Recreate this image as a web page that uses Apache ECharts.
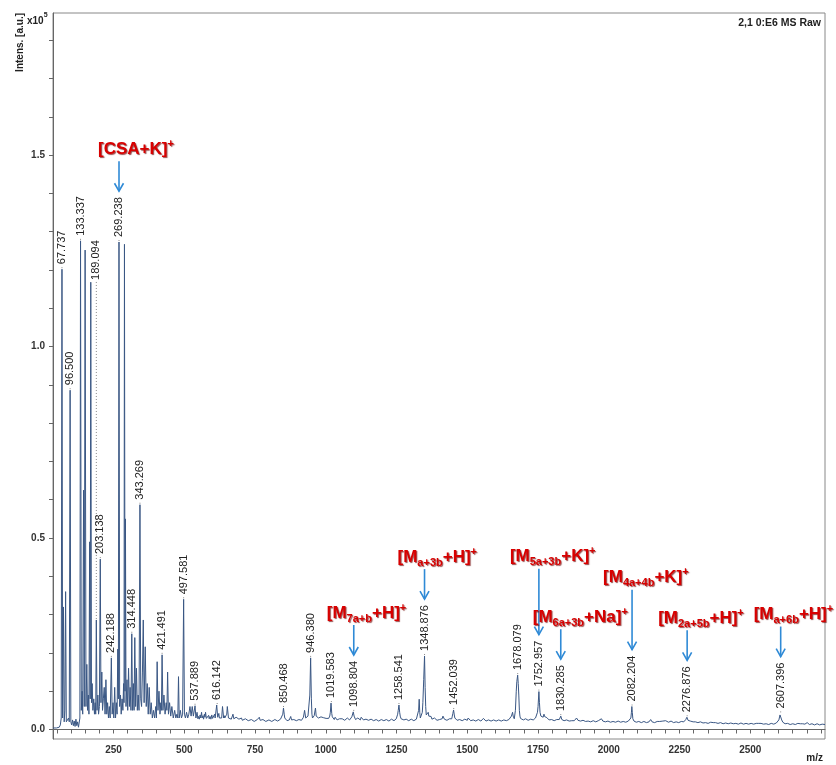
<!DOCTYPE html>
<html><head><meta charset="utf-8">
<script src="https://cdn.jsdelivr.net/npm/echarts@6/dist/echarts.min.js"></script>
<style>html,body{margin:0;padding:0;background:#fff}#c{width:836px;height:765px}</style>
</head><body><div id="c"></div>
<script>
// ---- data (intensity in units of 1e5 a.u.) ----
const spectrum = [
[36,0.004],[42,0.006],[48,0.004],[54,0.008],[58,0.006],[62,0.012],[65,0.03],[67.7,1.202],[70,0.03],[73,0.32],[75.5,0.02],[78,0.05],[80.6,0.36],[83,0.02],[87,0.015],[91,0.03],[93.5,0.02],[96.5,0.886],[99,0.02],[102,0.012],[105,0.025],[108,0.01],[111,0.022],[114,0.008],[117,0.027],[120,0.01],[123,0.02],[126,0.006],[129,0.01],[131,0.03],
[133.3,1.276],[136,0.05],[139,0.1],[141,0.04],[144,0.625],[146.5,0.06],[149.5,1.252],[152.5,0.06],[155.5,0.17],[158,0.05],[161,0.09],[163,0.04],[165.5,0.49],[167.5,0.08],[169.5,1.168],[172,0.07],[174.5,0.12],[177,0.05],[180,0.08],[182.5,0.04],[185,0.07],[187,0.04],[189.1,0.286],[191.5,0.05],[194.5,0.09],[197,0.04],[200,0.06],[203.1,0.445],[205.5,0.07],[208.5,0.15],[211,0.05],[214,0.08],[217,0.11],[220,0.04],[223,0.13],[226,0.04],[229,0.07],[232,0.03],[235,0.06],[238,0.03],[242.2,0.187],[245,0.04],[248,0.07],[251,0.03],[254,0.11],[257,0.03],[260,0.07],[262.5,0.04],[265,0.21],[267,0.08],[269.2,1.273],[271.5,0.06],[274.5,0.09],[277,0.04],[280,0.08],[283,0.05],[285.5,0.12],[287,0.07],[288.5,1.267],[290.5,0.1],[292,0.55],[294,0.06],[297.5,0.13],[300,0.05],[303,0.16],[306,0.06],[308.5,0.11],[311.5,0.05],[314.4,0.25],[317,0.05],[320,0.12],[322.5,0.05],[325,0.24],[328,0.06],[331,0.16],[334,0.05],[337,0.09],[340,0.05],[343.3,0.587],[346,0.08],[349,0.06],[352,0.15],[355,0.286],[358,0.07],[362,0.216],[365.5,0.06],[369,0.12],[372.5,0.04],[376,0.11],[379.5,0.04],[383,0.07],[387,0.03],[391,0.05],[395,0.03],[399,0.06],[401.5,0.03],[404,0.177],[407,0.05],[410.5,0.1],[414,0.04],[417,0.07],[419,0.05],[421.5,0.195],[424.5,0.05],[428,0.09],[432,0.04],[436,0.07],[438.5,0.05],[441,0.15],[444,0.04],[448,0.07],[452,0.035],[456,0.06],[461,0.03],[466,0.05],[470,0.03],[474,0.04],[477,0.03],[479.5,0.138],[482,0.03],[486,0.05],[490,0.03],[494,0.04],[497.6,0.34],[500.5,0.04],[504,0.03],[508,0.045],[512,0.03],[516,0.04],[520,0.06],[524,0.035],[528,0.06],[532,0.035],[537.9,0.062],[541,0.03],[545,0.045],[548,0.028],[550,0.034],[553,0.027],[556,0.038],[558,0.03],[561,0.045],[563,0.03],[566,0.036],[568,0.027],[571,0.04],[573,0.032],[575,0.045],[578,0.029],[580,0.033],[583,0.027],[586,0.037],[588,0.028],[591,0.034],[594,0.027],[597,0.038],[600,0.029],[602,0.034],[605,0.028],[607,0.04],[609,0.03],[611,0.033],[614.5,0.064],[618,0.032],[620,0.036],[622,0.042],[624,0.03],[626,0.033],[628,0.028],[630,0.035],[632,0.03],[635,0.06],[639,0.03],[641,0.036],[643,0.03],[645,0.035],[647,0.03],[650,0.04],[652,0.06],[656,0.03],[658,0.034],[661,0.03],[663,0.035],[666,0.027],[669,0.031],[672,0.04],[675,0.028],[677,0.032],[680,0.026],[683,0.032],[686,0.027],[690,0.036],[693,0.027],[696,0.031],[699,0.025],[702,0.03],[705,0.024],[709,0.028],[712,0.023],[716,0.028],[719,0.023],[723,0.027],[726,0.023],[730,0.027],[733,0.022],[737,0.026],[740,0.022],[744,0.026],[747,0.021],[751,0.025],[754,0.022],[758,0.026],[762,0.024],[765,0.032],[768,0.024],[771,0.027],[774,0.022],[778,0.026],[781,0.022],[785,0.025],[788,0.021],[792,0.026],[795,0.022],[799,0.025],[802,0.022],[806,0.026],[809,0.021],[813,0.024],[816,0.022],[820,0.026],[823,0.022],[827,0.025],[830,0.022],[834,0.026],[837,0.023],[840,0.027],[843,0.025],[845,0.03],[848,0.04],[850.5,0.056],[853,0.04],[855,0.03],[858,0.025],[860,0.027],[863,0.023],[866,0.026],[868,0.023],[871,0.025],[874,0.028],[876,0.034],[879,0.025],[881,0.027],[884,0.023],[887,0.026],[890,0.023],[893,0.025],[896,0.023],[899,0.027],[902,0.023],[905,0.026],[908,0.024],[911,0.028],[914,0.024],[916,0.027],[919,0.025],[921,0.032],[925,0.05],[929,0.03],[931,0.026],[933,0.03],[935,0.026],[937,0.035],[939,0.03],[941,0.04],[943.5,0.09],[946.4,0.187],[949,0.08],[951,0.04],[953,0.03],[955,0.034],[957,0.028],[959,0.036],[961,0.04],[963.5,0.056],[966,0.035],[968,0.03],[970,0.036],[972,0.04],[974,0.03],[976,0.028],[979,0.032],[981,0.027],[983,0.033],[986,0.036],[988,0.028],[991,0.031],[993,0.026],[996,0.031],[998,0.026],[1001,0.029],[1003,0.025],[1006,0.03],[1008,0.026],[1010,0.029],[1012,0.03],[1014,0.035],[1016,0.045],[1018.5,0.069],[1021,0.042],[1023,0.033],[1025,0.028],[1028,0.031],[1030,0.026],[1033,0.032],[1035,0.027],[1038,0.03],[1040,0.025],[1043,0.03],[1045,0.025],[1048,0.028],[1050,0.024],[1053,0.029],[1055,0.025],[1058,0.028],[1061,0.024],[1064,0.028],[1067,0.024],[1070,0.027],[1073,0.024],[1076,0.03],[1079,0.025],[1082,0.028],[1084,0.025],[1087,0.03],[1089,0.026],[1092,0.033],[1094,0.03],[1097,0.046],[1100,0.035],[1102,0.03],[1105,0.026],[1107,0.029],[1110,0.025],[1113,0.03],[1116,0.026],[1119,0.028],[1122,0.025],[1125,0.032],[1127,0.027],[1130,0.029],[1133,0.025],[1136,0.029],[1139,0.024],[1142,0.027],[1145,0.024],[1148,0.028],[1151,0.024],[1154,0.027],[1157,0.023],[1160,0.027],[1163,0.023],[1166,0.026],[1169,0.023],[1172,0.027],[1175,0.023],[1178,0.026],[1181,0.023],[1184,0.026],[1187,0.022],[1190,0.025],[1193,0.023],[1196,0.026],[1199,0.023],[1202,0.025],[1205,0.023],[1208,0.027],[1211,0.023],[1214,0.026],[1217,0.023],[1220,0.026],[1223,0.022],[1226,0.025],[1229,0.023],[1232,0.027],[1235,0.023],[1238,0.026],[1241,0.023],[1244,0.026],[1247,0.025],[1249,0.028],[1252,0.03],[1254,0.04],[1256,0.05],[1258.5,0.064],[1261,0.045],[1263,0.035],[1266,0.028],[1268,0.031],[1271,0.026],[1273,0.029],[1276,0.025],[1278,0.029],[1281,0.024],[1284,0.027],[1287,0.024],[1290,0.027],[1293,0.023],[1296,0.026],[1299,0.023],[1302,0.027],[1305,0.024],[1308,0.026],[1311,0.023],[1314,0.027],[1317,0.024],[1320,0.027],[1323,0.025],[1325,0.03],[1328,0.05],[1330,0.079],[1332,0.045],[1334,0.03],[1336,0.033],[1338,0.035],[1341,0.045],[1343,0.07],[1346,0.13],[1348.9,0.192],[1351,0.11],[1353,0.06],[1355,0.038],[1357,0.033],[1360,0.038],[1362,0.045],[1364,0.035],[1367,0.03],[1369,0.033],[1372,0.034],[1375,0.027],[1378,0.029],[1381,0.025],[1384,0.03],[1387,0.025],[1390,0.027],[1393,0.024],[1396,0.028],[1399,0.024],[1402,0.026],[1405,0.024],[1408,0.027],[1411,0.028],[1414,0.035],[1416,0.03],[1419,0.027],[1422,0.024],[1425,0.028],[1428,0.024],[1431,0.026],[1434,0.024],[1437,0.028],[1440,0.026],[1442,0.03],[1445,0.028],[1447,0.035],[1449,0.042],[1451.5,0.051],[1454,0.038],[1456,0.03],[1459,0.026],[1461,0.028],[1464,0.024],[1467,0.028],[1470,0.024],[1473,0.026],[1476,0.023],[1479,0.027],[1482,0.023],[1485,0.025],[1488,0.023],[1491,0.027],[1494,0.023],[1497,0.025],[1500,0.024],[1503,0.03],[1506,0.025],[1509,0.026],[1512,0.023],[1515,0.027],[1518,0.023],[1521,0.025],[1524,0.022],[1527,0.026],[1530,0.022],[1533,0.025],[1536,0.022],[1539,0.026],[1542,0.022],[1545,0.024],[1548,0.022],[1551,0.026],[1554,0.024],[1557,0.029],[1560,0.024],[1563,0.025],[1566,0.022],[1569,0.026],[1572,0.022],[1575,0.025],[1578,0.022],[1581,0.026],[1584,0.022],[1587,0.024],[1590,0.022],[1593,0.025],[1596,0.022],[1599,0.024],[1602,0.022],[1605,0.026],[1608,0.022],[1611,0.025],[1614,0.022],[1617,0.026],[1620,0.022],[1623,0.024],[1626,0.022],[1629,0.025],[1632,0.022],[1635,0.025],[1638,0.023],[1641,0.026],[1644,0.023],[1647,0.026],[1650,0.025],[1652,0.03],[1654,0.028],[1656,0.035],[1658,0.04],[1660,0.045],[1662,0.035],[1664,0.03],[1666,0.028],[1668,0.033],[1670,0.05],[1673,0.1],[1675,0.125],[1678,0.142],[1680,0.12],[1682,0.09],[1684,0.05],[1686,0.035],[1688,0.029],[1690,0.028],[1693,0.026],[1695,0.03],[1698,0.025],[1700,0.027],[1703,0.024],[1706,0.028],[1709,0.024],[1712,0.026],[1715,0.024],[1718,0.027],[1721,0.024],[1724,0.027],[1727,0.024],[1730,0.028],[1733,0.025],[1736,0.027],[1739,0.026],[1741,0.03],[1744,0.03],[1746,0.035],[1748,0.045],[1750,0.06],[1753,0.099],[1755,0.07],[1757,0.045],[1760,0.035],[1762,0.032],[1764,0.034],[1766,0.036],[1768,0.032],[1771,0.04],[1773,0.034],[1776,0.036],[1778,0.03],[1781,0.031],[1783,0.027],[1786,0.028],[1789,0.025],[1792,0.029],[1795,0.025],[1798,0.026],[1801,0.024],[1804,0.027],[1807,0.023],[1810,0.025],[1813,0.023],[1816,0.026],[1819,0.023],[1822,0.025],[1825,0.026],[1827,0.028],[1830.3,0.035],[1832,0.03],[1834,0.026],[1837,0.024],[1839,0.027],[1842,0.023],[1845,0.025],[1848,0.022],[1851,0.025],[1854,0.022],[1857,0.024],[1860,0.022],[1863,0.025],[1866,0.022],[1869,0.023],[1872,0.022],[1875,0.026],[1878,0.023],[1881,0.025],[1884,0.026],[1886,0.03],[1888,0.027],[1891,0.024],[1894,0.022],[1897,0.025],[1900,0.022],[1903,0.023],[1906,0.021],[1909,0.024],[1912,0.021],[1915,0.023],[1918,0.021],[1921,0.024],[1924,0.021],[1927,0.022],[1930,0.02],[1933,0.023],[1936,0.02],[1939,0.022],[1942,0.02],[1945,0.023],[1948,0.02],[1951,0.022],[1954,0.02],[1957,0.023],[1960,0.021],[1963,0.023],[1966,0.022],[1969,0.025],[1971,0.026],[1974,0.028],[1976,0.025],[1979,0.022],[1982,0.021],[1985,0.023],[1988,0.02],[1991,0.022],[1994,0.02],[1997,0.022],[2000,0.02],[2003,0.021],[2006,0.019],[2009,0.022],[2012,0.019],[2015,0.021],[2018,0.019],[2021,0.022],[2024,0.019],[2027,0.021],[2030,0.019],[2033,0.022],[2036,0.019],[2039,0.021],[2042,0.019],[2045,0.022],[2048,0.019],[2051,0.021],[2054,0.019],[2057,0.021],[2060,0.019],[2063,0.021],[2066,0.019],[2069,0.022],[2072,0.022],[2074,0.024],[2076,0.026],[2078,0.03],[2080,0.045],[2081.5,0.06],[2083,0.045],[2085,0.028],[2087,0.024],[2089,0.022],[2092,0.02],[2094,0.021],[2097,0.019],[2100,0.022],[2103,0.019],[2106,0.021],[2109,0.019],[2112,0.021],[2115,0.018],[2118,0.02],[2121,0.018],[2124,0.021],[2127,0.018],[2130,0.02],[2133,0.018],[2136,0.021],[2139,0.019],[2142,0.02],[2145,0.022],[2148,0.026],[2150,0.022],[2153,0.02],[2156,0.019],[2159,0.021],[2162,0.018],[2165,0.02],[2168,0.018],[2171,0.021],[2174,0.018],[2177,0.02],[2180,0.021],[2183,0.024],[2186,0.021],[2188,0.022],[2191,0.022],[2193,0.025],[2196,0.021],[2198,0.022],[2201,0.023],[2203,0.026],[2206,0.022],[2208,0.021],[2211,0.019],[2214,0.021],[2217,0.019],[2220,0.022],[2223,0.019],[2226,0.02],[2229,0.018],[2232,0.021],[2235,0.018],[2238,0.02],[2241,0.018],[2244,0.02],[2247,0.018],[2250,0.02],[2253,0.018],[2256,0.021],[2259,0.019],[2262,0.021],[2265,0.02],[2268,0.022],[2270,0.024],[2272,0.026],[2274,0.029],[2276,0.032],[2278,0.028],[2280,0.024],[2283,0.021],[2285,0.022],[2288,0.022],[2290,0.024],[2293,0.021],[2295,0.02],[2298,0.02],[2300,0.022],[2303,0.019],[2306,0.02],[2309,0.018],[2312,0.02],[2315,0.018],[2318,0.019],[2321,0.017],[2324,0.02],[2327,0.017],[2330,0.019],[2333,0.017],[2336,0.019],[2339,0.017],[2342,0.018],[2345,0.016],[2348,0.019],[2351,0.016],[2354,0.018],[2357,0.016],[2360,0.019],[2363,0.016],[2366,0.018],[2369,0.018],[2372,0.021],[2374,0.019],[2377,0.018],[2380,0.016],[2383,0.019],[2386,0.016],[2389,0.018],[2392,0.016],[2395,0.018],[2398,0.016],[2401,0.017],[2404,0.015],[2407,0.018],[2410,0.015],[2413,0.017],[2416,0.015],[2419,0.018],[2422,0.015],[2425,0.017],[2428,0.015],[2431,0.017],[2434,0.015],[2437,0.017],[2440,0.015],[2443,0.017],[2446,0.015],[2449,0.016],[2452,0.014],[2455,0.017],[2458,0.014],[2461,0.016],[2464,0.014],[2467,0.017],[2470,0.014],[2473,0.016],[2476,0.014],[2479,0.016],[2482,0.014],[2485,0.016],[2488,0.014],[2491,0.017],[2494,0.014],[2497,0.016],[2500,0.014],[2503,0.016],[2506,0.014],[2509,0.016],[2512,0.014],[2515,0.017],[2518,0.014],[2521,0.016],[2524,0.014],[2527,0.016],[2530,0.016],[2533,0.019],[2535,0.017],[2538,0.016],[2541,0.014],[2544,0.016],[2547,0.014],[2550,0.016],[2553,0.014],[2556,0.015],[2559,0.013],[2562,0.016],[2565,0.013],[2568,0.015],[2571,0.013],[2574,0.016],[2577,0.014],[2580,0.015],[2583,0.014],[2586,0.016],[2589,0.015],[2592,0.017],[2594,0.017],[2597,0.02],[2599,0.022],[2601,0.025],[2603,0.03],[2605,0.038],[2607.4,0.042],[2609,0.035],[2611,0.025],[2613,0.021],[2615,0.019],[2618,0.017],[2620,0.018],[2623,0.015],[2626,0.016],[2629,0.014],[2632,0.016],[2635,0.014],[2638,0.015],[2641,0.013],[2644,0.016],[2647,0.013],[2650,0.015],[2653,0.013],[2656,0.015],[2659,0.013],[2662,0.015],[2665,0.013],[2668,0.016],[2671,0.014],[2674,0.015],[2677,0.015],[2680,0.018],[2682,0.016],[2685,0.015],[2688,0.014],[2690,0.016],[2693,0.014],[2696,0.015],[2699,0.015],[2701,0.018],[2703,0.016],[2706,0.015],[2709,0.013],[2712,0.016],[2715,0.013],[2718,0.015],[2721,0.013],[2724,0.015],[2727,0.012],[2730,0.014],[2733,0.012],[2736,0.015],[2739,0.012],[2742,0.014],[2745,0.012],[2748,0.014],[2751,0.012],[2754,0.014],[2757,0.012],[2760,0.014],[2764,0.013]
];

const peakText = ['67.737','96.500','133.337','189.094','203.138','242.188','269.238','314.448','343.269','421.491','497.581','537.889','616.142','850.468','946.380','1019.583','1098.804','1258.541','1348.876','1452.039','1678.079','1752.957','1830.285','2082.204','2276.876','2607.396'];
const peakMz = [67.737,96.5,133.337,189.094,203.138,242.188,269.238,314.448,343.269,421.491,497.581,537.889,616.142,850.468,946.38,1019.583,1098.804,1258.541,1348.876,1452.039,1678.079,1752.957,1830.285,2082.204,2276.876,2607.396];
const peakIntensity = [1.202,0.886,1.276,0.286,0.445,0.187,1.273,0.25,0.587,0.195,0.34,0.062,0.064,0.056,0.187,0.069,0.046,0.064,0.192,0.051,0.142,0.099,0.035,0.06,0.032,0.042];

const annoIon = ['CSA','M','M','M','M','M','M','M'];
const annoSub = ['','7a+b','a+3b','5a+3b','6a+3b','4a+4b','2a+5b','a+6b'];
const annoAdduct = ['K','H','H','K','Na','K','H','H'];
const annoTargetMz = [269.238,1098.804,1348.876,1752.957,1830.285,2082.204,2276.876,2607.396];

const xTickLabels = [250,500,750,1000,1250,1500,1750,2000,2250,2500];
const yTickLabels = [0,0.5,1.0,1.5];

// ---- layout / style (not data) ----
const labelLift = {'189.094': 335};
const annoArrowLen = [30,30,30,66,30,60,30,30];
const annoTextShift = [21,27,27,29,28,29,29,27];
const LABEL_FONT = '11px "Liberation Sans", Arial, sans-serif';
const mctx = document.createElement('canvas').getContext('2d');
mctx.font = LABEL_FONT;
const textW = t => mctx.measureText(t).width;

const xMinor = []; for (let v = 50; v <= 2750; v += 50) xMinor.push(v);
const yMinor = []; for (let k = 0; k <= 18; k++) yMinor.push(+(k/10).toFixed(1));

const chart = echarts.init(document.getElementById('c'), null, {renderer:'canvas'});
const axisCol = '#666';
const redStyle = {fill:'#D80000', fontFamily:'"Liberation Sans", Arial, sans-serif', fontWeight:'bold',
  textShadowColor:'rgba(110,0,0,0.7)', textShadowOffsetX:1, textShadowOffsetY:1, textShadowBlur:1};

chart.setOption({
  animation:false,
  backgroundColor:'#fff',
  grid:{left:53,right:11,top:13,bottom:26,show:true,borderColor:'#888',borderWidth:1,backgroundColor:'transparent'},
  xAxis:{type:'value',min:36,max:2764,
    axisLine:{show:true,lineStyle:{color:axisCol,width:1}},
    axisTick:{show:true,customValues:xMinor,length:4,lineStyle:{color:axisCol}},
    axisLabel:{customValues:xTickLabels,margin:6,formatter:v=>String(v),color:'#333',fontSize:10,fontWeight:'bold',fontFamily:'"Liberation Sans", Arial, sans-serif'},
    splitLine:{show:false}},
  yAxis:{type:'value',min:-0.0248,max:1.871,
    axisLine:{show:true,lineStyle:{color:axisCol,width:1}},
    axisTick:{show:true,customValues:yMinor,length:4,lineStyle:{color:axisCol}},
    axisLabel:{customValues:yTickLabels,margin:8,formatter:v=>v.toFixed(1),color:'#333',fontSize:10,fontWeight:'bold',fontFamily:'"Liberation Sans", Arial, sans-serif'},
    splitLine:{show:false}},
  graphic:[
    {type:'text',x:20,y:13,rotation:Math.PI/2,style:{text:'Intens. [a.u.]',font:'bold 10px "Liberation Sans", Arial',fill:'#222',align:'right',verticalAlign:'middle'}},
    {type:'text',x:27,y:19,style:{text:'{a|x10}{b|5}',rich:{a:{font:'bold 10px "Liberation Sans", Arial',fill:'#222',lineHeight:14,verticalAlign:'bottom'},b:{font:'bold 7px "Liberation Sans", Arial',fill:'#222',lineHeight:8,verticalAlign:'top'}},verticalAlign:'middle'}},
    {type:'text',x:821,y:23,style:{text:'2,1 0:E6 MS Raw',font:'bold 10.5px "Liberation Sans", Arial',fill:'#222',align:'right',verticalAlign:'middle'}},
    {type:'text',x:823,y:758,style:{text:'m/z',font:'bold 10px "Liberation Sans", Arial',fill:'#222',align:'right',verticalAlign:'middle'}}
  ],
  series:[
    {type:'line',data:spectrum,showSymbol:false,symbol:'none',silent:true,
     lineStyle:{color:'#3A5784',width:1},z:2},
    {type:'custom',silent:true,clip:false,z:5,encode:{x:0,y:1},
     data:peakMz.map((m,i)=>[m,peakIntensity[i],i]),
     renderItem:(params,api)=>{
       const i = api.value(2);
       const p = api.coord([api.value(0),api.value(1)]);
       const gap = 5 + (labelLift[peakText[i]] || 0);
       return {type:'group',children:[
         {type:'line',shape:{x1:p[0],y1:p[1]-1,x2:p[0],y2:p[1]-gap+1},style:{stroke:'#888',lineWidth:1,lineDash:[1,2]}},
         {type:'text',x:p[0],y:p[1]-gap,rotation:Math.PI/2,style:{text:peakText[i],font:LABEL_FONT,fill:'#222',align:'left',verticalAlign:'middle'}}
       ]};
     }},
    {type:'custom',silent:true,clip:false,z:6,encode:{x:0,y:1},
     data:annoTargetMz.map((m,i)=>{const k=peakMz.indexOf(m);return [m,peakIntensity[k],i,k];}),
     renderItem:(params,api)=>{
       const i = api.value(2), k = api.value(3);
       const p = api.coord([api.value(0),api.value(1)]);
       const labelTop = p[1] - 5 - textW(peakText[k]);
       const yb = labelTop - 6, yt = yb - annoArrowLen[i];
       const x = p[0];
       const txt = '{m|[' + annoIon[i] + '}' + (annoSub[i] ? '{s|' + annoSub[i] + '}' : '') + '{m|+' + annoAdduct[i] + ']}{p|+}';
       return {type:'group',children:[
         {type:'line',shape:{x1:x,y1:yt,x2:x,y2:yb},style:{stroke:'#2F8AD6',lineWidth:1.6}},
         {type:'polyline',shape:{points:[[x-4.5,yb-8],[x,yb],[x+4.5,yb-8]]},style:{stroke:'#2F8AD6',lineWidth:1.6,fill:null}},
         {type:'text',x:x-annoTextShift[i],y:yt-12,style:{text:txt,align:'left',verticalAlign:'middle',
           rich:{
             m:Object.assign({fontSize:17,lineHeight:22,verticalAlign:'middle'},redStyle),
             s:Object.assign({fontSize:11,lineHeight:11,verticalAlign:'bottom'},redStyle),
             p:Object.assign({fontSize:11,lineHeight:11,verticalAlign:'top'},redStyle)
           }}}
       ]};
     }}
  ]
});
</script></body></html>
